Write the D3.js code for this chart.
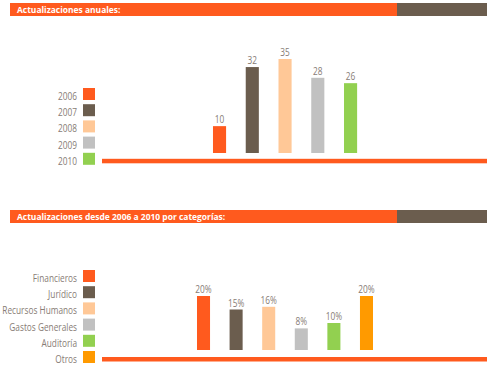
<!DOCTYPE html>
<html>
<head>
<meta charset="utf-8">
<script src="https://cdn.jsdelivr.net/npm/d3@7.9.0/dist/d3.min.js"></script>
<style>
  body { margin: 0; background: #fff; }
  svg { display: block; font-family: "Open Sans", sans-serif; }
</style>
</head>
<body>
<svg id="chart" width="490" height="365"></svg>
<script>
// data
const years = ['2006', '2007', '2008', '2009', '2010'];
const yearValues = [10, 32, 35, 28, 26];
const yearColors = ['#ff5a1e', '#6b5d4e', '#ffc897', '#c1c1c1', '#92d050'];

const categories = ['Financieros', 'Jurídico', 'Recursos Humanos', 'Gastos Generales', 'Auditoría', 'Otros'];
const catValues = [20, 15, 16, 8, 10, 20];
const catColors = ['#ff5a1e', '#6b5d4e', '#ffc897', '#c1c1c1', '#92d050', '#ff9a00'];

const titles = ['Actualizaciones anuales:', 'Actualizaciones desde 2006 a 2010 por categorías:'];

const orange = '#ff5a1e';
const brown = '#6b5d4e';
const textGray = '#877c75';
const squeeze = 0.83; // the original font is a narrow one

const svg = d3.select('#chart');

// text narrowed horizontally around its anchor point
function label(parent, x, y, str, anchor, size, fill, k) {
  return parent.append('text')
    .attr('transform', `translate(${x},${y}) scale(${k},1)`)
    .attr('text-anchor', anchor)
    .attr('font-size', size)
    .attr('fill', fill)
    .text(str);
}

function header(y, title) {
  svg.append('rect').attr('x', 10).attr('y', y).attr('width', 387).attr('height', 13).attr('fill', orange);
  svg.append('rect').attr('x', 397).attr('y', y).attr('width', 90).attr('height', 13).attr('fill', brown);
  label(svg, 17, y + 9.8, title, 'start', 9.5, '#fff', 0.89).attr('font-weight', 'bold');
}

function panel(opts) {
  const { labels, values, colors, xRange, yDomain, yRange, legendTop, baseY, suffix } = opts;

  const x = d3.scaleBand().domain(labels).range(xRange).paddingInner(0.6).paddingOuter(0.5);
  const y = d3.scaleLinear().domain(yDomain).range(yRange);

  // baseline
  svg.append('rect').attr('x', 102).attr('y', baseY).attr('width', 385).attr('height', 4.5).attr('fill', orange);

  const g = svg.append('g');
  g.selectAll('rect')
    .data(values)
    .join('rect')
    .attr('x', (d, i) => x(labels[i]))
    .attr('width', x.bandwidth())
    .attr('y', d => y(d))
    .attr('height', d => y(0) - y(d))
    .attr('fill', (d, i) => colors[i]);

  values.forEach((d, i) => {
    label(g, x(labels[i]) + x.bandwidth() / 2, y(d) - 3, d + suffix, 'middle', 10, textGray, squeeze);
  });

  // legend
  const ly = d3.scaleBand().domain(labels).range([legendTop, legendTop + 16.2 * labels.length]);
  const lg = svg.append('g');
  labels.forEach((l, i) => {
    lg.append('rect')
      .attr('x', 83).attr('y', ly(l))
      .attr('width', 12).attr('height', 12)
      .attr('fill', colors[i]);
    label(lg, 77, ly(l) + 12, l, 'end', 10, textGray, squeeze);
  });
}

header(3, titles[0]);
panel({
  labels: years, values: yearValues, colors: yearColors,
  xRange: [196.6, 373.5], yDomain: [0, 35], yRange: [153, 59],
  legendTop: 88, baseY: 158.8, suffix: ''
});

header(210, titles[1]);
panel({
  labels: categories, values: catValues, colors: catColors,
  xRange: [180.7, 389.3], yDomain: [0, 20], yRange: [350, 296],
  legendTop: 270, baseY: 357, suffix: '%'
});
</script>
</body>
</html>
